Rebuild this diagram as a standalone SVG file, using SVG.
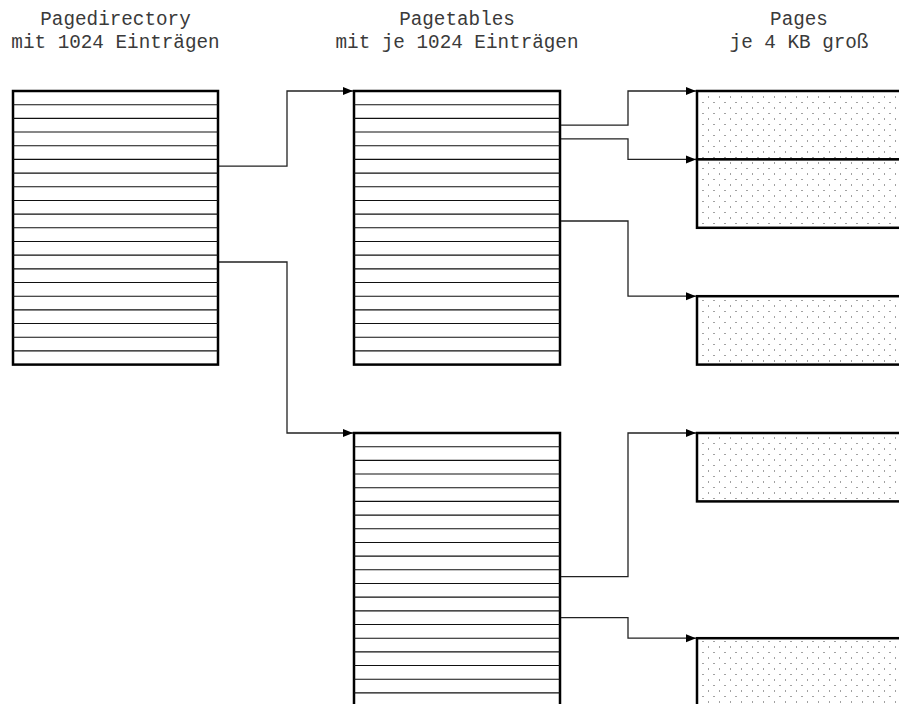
<svg xmlns="http://www.w3.org/2000/svg" width="899" height="704" viewBox="0 0 899 704">
<style>
.lbl{font-family:"Liberation Mono","DejaVu Sans Mono",monospace;font-size:19.3px;fill:#3a3a3a;text-anchor:middle}
.box{fill:#fff;stroke:#000;stroke-width:2.5}
.rows{fill:none;stroke:#111;stroke-width:1.1}
.page{fill:url(#dots);stroke:#000;stroke-width:2.5}
.conn{fill:none;stroke:#222;stroke-width:1.3}
</style>
<defs>
<pattern id="dots" patternUnits="userSpaceOnUse" x="697" y="91" width="11" height="11">
<rect width="11" height="11" fill="#fff"/>
<rect x="0" y="5.5" width="1" height="1" fill="#444"/>
<rect x="5.5" y="0" width="1" height="1" fill="#444"/>
</pattern>
<marker id="arr" markerUnits="userSpaceOnUse" markerWidth="11" markerHeight="9" refX="10" refY="4" orient="auto">
<path d="M0,0 L10,4 L0,8 z" fill="#000"/>
</marker>
</defs>
<g id="labels">
<text class="lbl" x="115.5" y="25">Pagedirectory</text>
<text class="lbl" x="115.5" y="48">mit 1024 Einträgen</text>
<text class="lbl" x="457" y="25">Pagetables</text>
<text class="lbl" x="457" y="48">mit je 1024 Einträgen</text>
<text class="lbl" x="799" y="25">Pages</text>
<text class="lbl" x="799" y="48">je 4 KB groß</text>
</g>
<g id="pagedirectory">
<rect class="box" x="13" y="91" width="205" height="273.6"/>
<path class="rows" d="M13 104.68h205M13 118.36h205M13 132.04h205M13 145.72h205M13 159.4h205M13 173.08h205M13 186.76h205M13 200.44h205M13 214.12h205M13 227.8h205M13 241.48h205M13 255.16h205M13 268.84h205M13 282.52h205M13 296.2h205M13 309.88h205M13 323.56h205M13 337.24h205M13 350.92h205"/>
</g>
<g id="pagetable1">
<rect class="box" x="354" y="91" width="206" height="273.6"/>
<path class="rows" d="M354 104.68h206M354 118.36h206M354 132.04h206M354 145.72h206M354 159.4h206M354 173.08h206M354 186.76h206M354 200.44h206M354 214.12h206M354 227.8h206M354 241.48h206M354 255.16h206M354 268.84h206M354 282.52h206M354 296.2h206M354 309.88h206M354 323.56h206M354 337.24h206M354 350.92h206"/>
</g>
<g id="pagetable2">
<rect class="box" x="354" y="433" width="206" height="273.6"/>
<path class="rows" d="M354 446.68h206M354 460.36h206M354 474.04h206M354 487.72h206M354 501.4h206M354 515.08h206M354 528.76h206M354 542.44h206M354 556.12h206M354 569.8h206M354 583.48h206M354 597.16h206M354 610.84h206M354 624.52h206M354 638.2h206M354 651.88h206M354 665.56h206M354 679.24h206M354 692.92h206"/>
</g>
<g id="page1"><rect class="page" x="697" y="91" width="215" height="68.4"/></g>
<g id="page2"><rect class="page" x="697" y="159.4" width="215" height="68.4"/></g>
<g id="page3"><rect class="page" x="697" y="296.2" width="215" height="68.4"/></g>
<g id="page4"><rect class="page" x="697" y="433" width="215" height="68.4"/></g>
<g id="page5"><rect class="page" x="697" y="638.2" width="215" height="68.4"/></g>
<g id="connectors">
<path class="conn" marker-end="url(#arr)" d="M219 166.2H287V91H353"/>
<path class="conn" marker-end="url(#arr)" d="M219 262H287V433H353"/>
<path class="conn" marker-end="url(#arr)" d="M561 125.2H628V91H696"/>
<path class="conn" marker-end="url(#arr)" d="M561 138.9H628V159.4H696"/>
<path class="conn" marker-end="url(#arr)" d="M561 221H628V296.2H696"/>
<path class="conn" marker-end="url(#arr)" d="M561 576.6H628V433H696"/>
<path class="conn" marker-end="url(#arr)" d="M561 617.7H628V638.2H696"/>
</g>
</svg>
